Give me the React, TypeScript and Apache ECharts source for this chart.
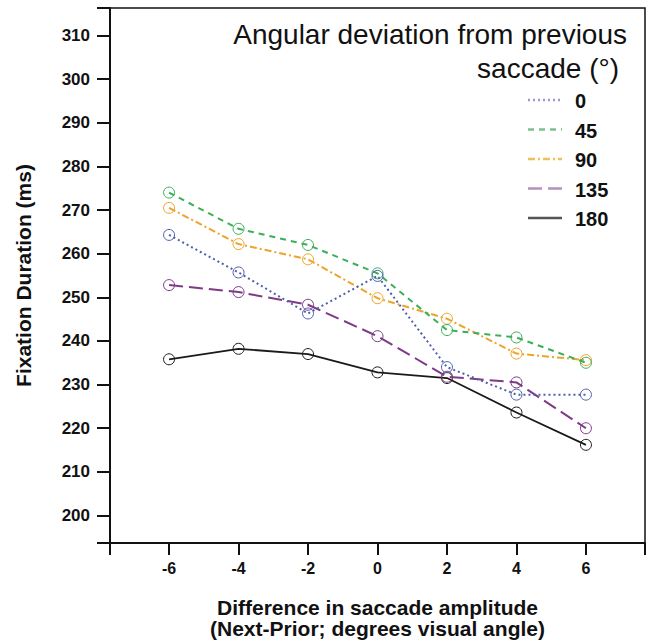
import React, { useEffect, useRef } from "react";
import * as echarts from "echarts";

const xValues = [-6, -4, -2, 0, 2, 4, 6];
const seriesNames = ["0", "45", "90", "135", "180"];
const dev0 = [264.3, 255.7, 246.3, 254.9, 234.0, 227.7, 227.7];
const dev45 = [274.0, 265.7, 262.0, 255.5, 242.5, 240.8, 235.0];
const dev90 = [270.5, 262.2, 258.7, 249.8, 245.1, 237.1, 235.6];
const dev135 = [252.8, 251.2, 248.3, 241.1, 231.8, 230.5, 220.0];
const dev180 = [235.8, 238.2, 237.0, 232.8, 231.5, 223.6, 216.2];
const yTicks = [200, 210, 220, 230, 240, 250, 260, 270, 280, 290, 300, 310];
const xTicks = [-6, -4, -2, 0, 2, 4, 6];

const X_MIN = -7.7;
const X_MAX = 7.7;
const Y_MIN = 193.7;
const Y_MAX = 316.3;

const allValues = [dev0, dev45, dev90, dev135, dev180];
const colors = ["#4f5fae", "#3aaf57", "#eea42a", "#7e3a86", "#1a1a1a"];
const legendColors = ["#9a9ccc", "#7cc08f", "#f0c060", "#b78fc0", "#555555"];
const dashes: any[] = [[2, 3], [6, 5], [7, 3, 2, 3], [14, 6], "solid"];
const FONT = "Liberation Sans, Arial, sans-serif";

export default function App() {
  const ref = useRef<HTMLDivElement>(null);
  useEffect(() => {
    if (!ref.current) return;
    const chart = echarts.init(ref.current, null, { renderer: "svg" });
    const series: any[] = allValues.map((vals, i) => ({
      name: seriesNames[i],
      type: "line",
      data: xValues.map((x, j) => [x, vals[j]]),
      symbol: "circle",
      symbolSize: 11,
      showSymbol: true,
      lineStyle: { color: colors[i], width: i === 4 ? 1.8 : 2, type: dashes[i] },
      itemStyle: { color: "rgba(255,255,255,0)", borderColor: colors[i], borderWidth: 1 },
      z: 10 - i,
    }));
    const legendGraphics: any[] = [];
    seriesNames.forEach((n, i) => {
      const y = 100 + i * 29.5;
      legendGraphics.push({
        type: "line",
        shape: { x1: 528, y1: y, x2: 562, y2: y },
        style: { stroke: legendColors[i], lineWidth: 2.5, lineDash: dashes[i] === "solid" ? null : dashes[i] },
      });
      legendGraphics.push({
        type: "text",
        x: 575,
        y: y + 1,
        style: { text: n, font: `bold 20px ${FONT}`, fill: "#111", textVerticalAlign: "middle" },
      });
    });
    chart.setOption({
      animation: false,
      backgroundColor: "#ffffff",
      grid: {
        left: 110,
        top: 8,
        right: 4,
        bottom: 93,
        show: true,
        borderColor: "#111",
        borderWidth: 1.5,
        backgroundColor: "transparent",
      },
      xAxis: {
        type: "value",
        min: X_MIN,
        max: X_MAX,
        minInterval: 2,
        maxInterval: 2,
        splitLine: { show: false },
        axisLine: { show: true, onZero: false, lineStyle: { color: "#111", width: 2 } },
        axisTick: { show: true, inside: false, length: 12, lineStyle: { color: "#111", width: 2 } },
        axisLabel: {
          customValues: xTicks,
          color: "#111",
          fontFamily: FONT,
          fontWeight: "bold",
          fontSize: 16,
          margin: 17,
        },
        name: "Difference in saccade amplitude\n(Next-Prior; degrees visual angle)",
        nameLocation: "middle",
        nameGap: 54,
        nameTextStyle: { color: "#111", fontFamily: FONT, fontWeight: "bold", fontSize: 21, lineHeight: 21 },
      },
      yAxis: {
        type: "value",
        min: Y_MIN,
        max: Y_MAX,
        minInterval: 10,
        maxInterval: 10,
        splitLine: { show: false },
        axisLine: { show: true, onZero: false, lineStyle: { color: "#111", width: 2 } },
        axisTick: { show: true, inside: false, length: 13, lineStyle: { color: "#111", width: 2 } },
        axisLabel: {
          customValues: yTicks,
          color: "#111",
          fontFamily: FONT,
          fontWeight: "bold",
          fontSize: 17,
          margin: 20,
        },
        name: "Fixation Duration (ms)",
        nameLocation: "middle",
        nameGap: 76,
        nameTextStyle: { color: "#111", fontFamily: FONT, fontWeight: "bold", fontSize: 21 },
      },
      graphic: [
        {
          type: "text",
          right: 22,
          top: 20,
          style: { text: "Angular deviation from previous", font: `28px ${FONT}`, fill: "#111" },
        },
        {
          type: "text",
          right: 30,
          top: 54,
          style: { text: "saccade (°)", font: `28px ${FONT}`, fill: "#111" },
        },
        ...legendGraphics,
      ],
      series,
    });
    return () => chart.dispose();
  }, []);
  return (
    <div
      ref={ref}
      style={{ position: "fixed", left: 0, top: 0, width: 649, height: 644, background: "#fff" }}
    />
  );
}
